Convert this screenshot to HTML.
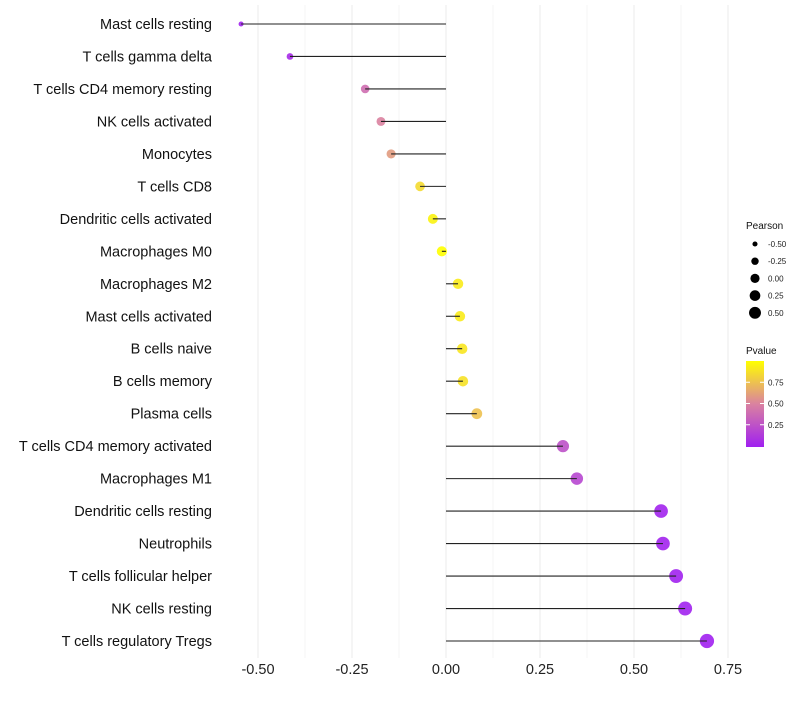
<!DOCTYPE html>
<html><head><meta charset="utf-8"><style>
body{margin:0;background:#fff}
svg{font-family:"Liberation Sans",Arial,sans-serif}
</style></head><body>
<svg id="c" width="800" height="700"></svg>
<script>
const categories=["Mast cells resting","T cells gamma delta","T cells CD4 memory resting","NK cells activated","Monocytes","T cells CD8","Dendritic cells activated","Macrophages M0","Macrophages M2","Mast cells activated","B cells naive","B cells memory","Plasma cells","T cells CD4 memory activated","Macrophages M1","Dendritic cells resting","Neutrophils","T cells follicular helper","NK cells resting","T cells regulatory  Tregs"];
const pearson=[-0.545,-0.415,-0.215,-0.173,-0.146,-0.069,-0.035,-0.011,0.032,0.037,0.043,0.045,0.082,0.311,0.348,0.572,0.577,0.612,0.636,0.694];
const pvalue=[0.01,0.05,0.4,0.5,0.6,0.85,0.95,1.0,0.92,0.92,0.9,0.88,0.75,0.25,0.2,0.02,0.02,0.01,0.01,0.005];
const xTicks=[-0.5,-0.25,0,0.25,0.5,0.75];
const xTickLabels=["-0.50","-0.25","0.00","0.25","0.50","0.75"];
const legendPearson=[-0.5,-0.25,0,0.25,0.5];
const legendPearsonLabels=["-0.50","-0.25","0.00","0.25","0.50"];
const legendP=[0.25,0.5,0.75];

const svg=document.getElementById('c');const NS='http://www.w3.org/2000/svg';
function mk(t,a,p){const e=document.createElementNS(NS,t);for(const k in a)e.setAttribute(k,a[k]);(p||svg).appendChild(e);return e;}
const x=v=>446+376*v;
const y=i=>24+i*(641-24)/19;
const r=v=>Math.sqrt(Math.max(3,26+36*v));
function col(p){const s=[[160,32,240],[218,130,160],[255,255,0]];let a,b,t;if(p<0.5){a=s[0];b=s[1];t=p/0.5}else{a=s[1];b=s[2];t=(p-0.5)/0.5}
return 'rgb('+a.map((c,i)=>Math.round(c+(b[i]-c)*t)).join(',')+')';}
for(let k=0;k<xTicks.length;k++){
 const g=mk('line',{x1:x(xTicks[k]),x2:x(xTicks[k]),y1:5,y2:658,stroke:'#ebebeb','stroke-width':1});
 
 if(k<xTicks.length-1){const m=mk('line',{x1:x(xTicks[k]+0.125),x2:x(xTicks[k]+0.125),y1:5,y2:658,stroke:'#f4f4f4','stroke-width':1});
 }
 const t=mk('text',{x:x(xTicks[k]),y:674,'text-anchor':'middle','font-size':14.5,fill:'#222'});t.textContent=xTickLabels[k];
 
}
categories.forEach((c,i)=>{
 const t=mk('text',{x:212,y:y(i)+5,'text-anchor':'end','font-size':14.5,fill:'#111'});t.textContent=c;
 
 const d=mk('circle',{cx:x(pearson[i]),cy:y(i),r:r(pearson[i]),fill:col(pvalue[i]),'fill-opacity':0.9});
 
 const l=mk('line',{x1:x(0),x2:x(pearson[i]),y1:y(i),y2:y(i),stroke:'#222','stroke-width':1.1});
 
});
let t=mk('text',{x:746,y:229,'font-size':10,fill:'#111'});t.textContent='Pearson';

legendPearson.forEach((v,i)=>{const cy=244+i*17.2;
 const c=mk('circle',{cx:755,cy:cy,r:r(v)*0.9,fill:'#000'});
 const tt=mk('text',{x:768,y:cy+3,'font-size':8,fill:'#222'});tt.textContent=legendPearsonLabels[i];
 });
t=mk('text',{x:746,y:354,'font-size':10,fill:'#111'});t.textContent='Pvalue';

const defs=mk('defs',{});const lg=mk('linearGradient',{id:'pg',x1:0,y1:1,x2:0,y2:0},defs);
[0,0.25,0.5,0.75,1].forEach(p=>mk('stop',{offset:p,'stop-color':col(p)},lg));
const bar=mk('rect',{x:746,y:361,width:18,height:86,fill:'url(#pg)'});

legendP.forEach(p=>{const yy=446-p*85;
 mk('line',{x1:746,x2:750,y1:yy,y2:yy,stroke:'#fff'});mk('line',{x1:760,x2:764,y1:yy,y2:yy,stroke:'#fff'});
 const tt=mk('text',{x:768,y:yy+3,'font-size':8,fill:'#222'});tt.textContent=p.toFixed(2);
 });
</script>
</body></html>
